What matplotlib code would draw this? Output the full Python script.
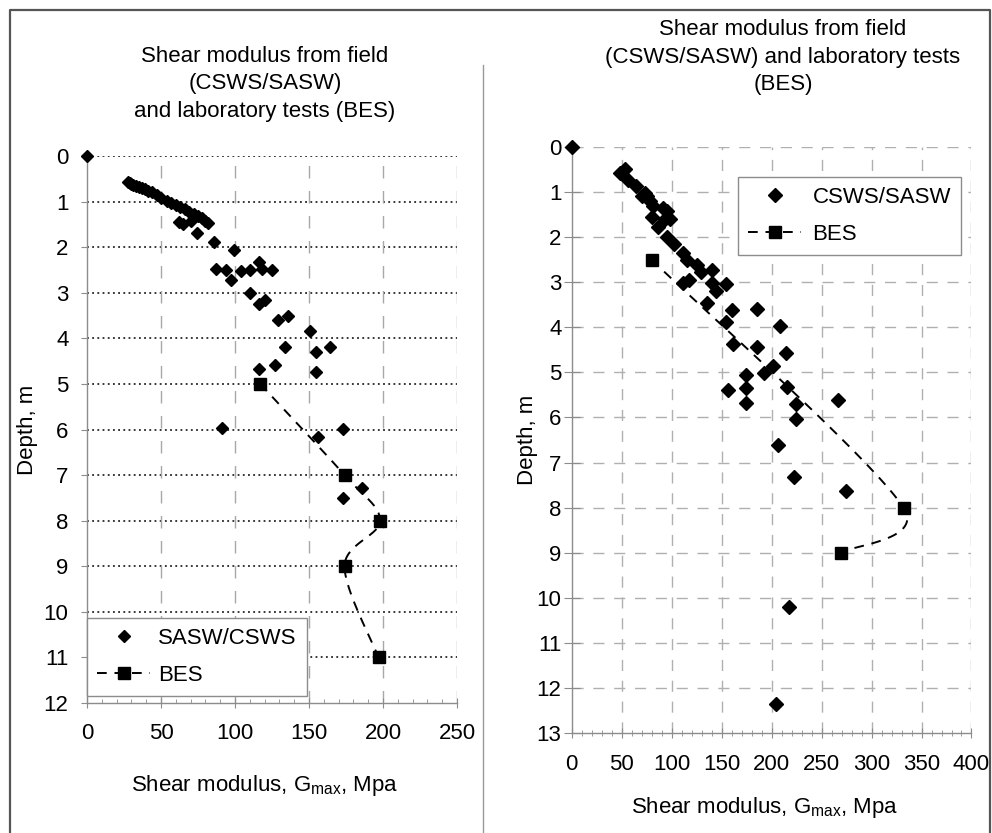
import numpy as np
import matplotlib
matplotlib.use("Agg")
import matplotlib.pyplot as plt
from matplotlib.lines import Line2D

plt.rcParams['font.family'] = ['Liberation Sans', 'DejaVu Sans']

# ---------------- data ----------------
left_field_G = [0, 28, 29, 30, 31, 33, 35, 37, 39, 41, 44, 47, 50, 54, 57, 60, 63, 66, 69, 72, 75, 78, 80, 82,
                62, 65, 70, 74, 86, 99, 87, 94, 97, 104, 110, 116, 118, 125, 110, 116, 120,
                129, 136, 151, 134, 164, 155, 127, 116, 155, 91, 156, 173, 186, 173]
left_field_d = [0, 0.57, 0.60, 0.62, 0.64, 0.66, 0.68, 0.70, 0.73, 0.76, 0.80, 0.85, 0.92, 0.99, 1.03, 1.07, 1.12, 1.17, 1.22, 1.27, 1.32, 1.37, 1.42, 1.46,
                1.45, 1.50, 1.43, 1.68, 1.88, 2.07, 2.47, 2.49, 2.71, 2.52, 2.49, 2.32, 2.47, 2.49, 3.00, 3.24, 3.15,
                3.60, 3.50, 3.84, 4.20, 4.20, 4.30, 4.58, 4.68, 4.74, 5.97, 6.16, 5.99, 7.28, 7.50]
left_bes_G = [117, 174, 198, 174, 197]
left_bes_d = [5, 7, 8, 9, 11]

right_field_G = [0, 48.5, 53.5, 56.8, 64.5, 73.5, 75.2, 70.2, 78.5, 81.8, 91.8, 95.2, 98.5, 93.5, 80.2, 86.8,
                 95.2, 102.5, 111.8, 115.8, 125.2, 129.5, 140.2, 140.2, 144.5, 154.2, 111.8, 117.8, 135.2,
                 160.2, 185.2, 208.5, 154.2, 161.8, 185.2, 214.2, 201.2, 192.5, 174.2, 156.8, 174.5, 174.5,
                 215.8, 224.2, 224.2, 206.8, 222.8, 274.5, 217.8, 204.2, 266]
right_field_d = [0, 0.585, 0.50, 0.73, 0.88, 1.02, 1.10, 1.10, 1.21, 1.32, 1.35, 1.43, 1.60, 1.60, 1.55, 1.79,
                 2.01, 2.16, 2.36, 2.52, 2.62, 2.77, 2.73, 3.01, 3.20, 3.05, 3.01, 2.96, 3.47,
                 3.63, 3.59, 3.97, 3.88, 4.38, 4.45, 4.58, 4.87, 5.02, 5.06, 5.39, 5.35, 5.67,
                 5.32, 5.71, 6.04, 6.61, 7.33, 7.62, 10.2, 12.35, 5.62]
right_bes_G = [80, 332, 269]
right_bes_d = [2.5, 8, 9]

left_xticks = [0, 50, 100, 150, 200, 250]
left_yticks = list(range(0, 13))
right_xticks = [0, 50, 100, 150, 200, 250, 300, 350, 400]
right_yticks = list(range(0, 14))

title_left = "Shear modulus from field\n(CSWS/SASW)\nand laboratory tests (BES)"
title_right = "Shear modulus from field\n(CSWS/SASW) and laboratory tests\n(BES)"
xlabel = "Shear modulus, G$_{\\mathregular{max}}$, Mpa"
ylabel = "Depth, m"

W, H = 992, 833
fig = plt.figure(figsize=(W / 100, H / 100), dpi=100)

def fx(px):
    return px / W

def fy(py):
    return 1 - py / H

FS = 16
GRAY = '#8c8c8c'


def smooth_curve(ax, xs, ys, n=40):
    """Excel-like smoothed line: cubic Bezier, arms of 1/6 of the neighbour chord,
    limited to half of the segment length (computed in display space)."""
    pts = ax.transData.transform(np.column_stack([xs, ys]))
    P = [pts[0]] + list(pts) + [pts[-1]]
    out = []
    for i in range(1, len(P) - 2):
        p0, p1, p2, p3 = P[i - 1], P[i], P[i + 1], P[i + 2]
        seg_len = np.hypot(*(p2 - p1))
        t1 = (p2 - p0) / 6.0
        t2 = (p3 - p1) / 6.0
        for t in (t1, t2):
            L = np.hypot(*t)
            if L > seg_len / 2 and L > 0:
                t *= (seg_len / 2) / L
        c1 = p1 + t1
        c2 = p2 - t2
        t = np.linspace(0, 1, n)[:, None]
        seg = ((1 - t) ** 3) * p1 + 3 * ((1 - t) ** 2) * t * c1 + 3 * (1 - t) * t ** 2 * c2 + t ** 3 * p2
        out.append(seg)
    out = np.vstack(out)
    return ax.transData.inverted().transform(out)


# ---------- left axes ----------
axL = fig.add_axes([fx(87), fy(703), fx(457 - 87), (703 - 156) / H])
axL.set_xlim(0, 250)
axL.set_ylim(12, 0)
for s in ['top', 'right']:
    axL.spines[s].set_visible(False)
for s in ['left', 'bottom']:
    axL.spines[s].set_color(GRAY)
    axL.spines[s].set_linewidth(1.0)
axL.set_xticks(left_xticks)
axL.set_yticks(left_yticks)
axL.set_xticks(np.arange(0, 251, 10), minor=True)
axL.tick_params(axis='x', which='major', direction='inout', length=7.5, color=GRAY, labelsize=FS, pad=11)
axL.tick_params(axis='x', which='minor', direction='in', length=3, color=GRAY)
axL.tick_params(axis='y', which='major', direction='out', length=4.3, color=GRAY, labelsize=FS, pad=9)
for y in left_yticks[:-1]:
    axL.axhline(y, color='black', lw=1.1, ls=(0, (1.2, 2.2)), zorder=1)
for x in left_xticks[1:]:
    axL.axvline(x, color='#a8a8a8', lw=1.0, ls=(0, (9, 9)), zorder=1)
axL.plot(left_field_G, left_field_d, ls='none', marker='D', ms=6.5, color='black', zorder=3,
         clip_on=False)
cL = smooth_curve(axL, left_bes_G, left_bes_d)
axL.plot(cL[:, 0], cL[:, 1], color='black', lw=1.4, ls=(0, (5, 4)), zorder=3)
axL.plot(left_bes_G, left_bes_d, ls='none', marker='s', ms=9, color='black', zorder=4)
h1 = Line2D([], [], ls='none', marker='D', ms=6.5, color='black')
h2 = Line2D([], [], color='black', lw=1.4, ls=(0, (5, 4)), marker='s', ms=9)
legL = axL.legend([h1, h2], ['SASW/CSWS', 'BES'], loc='lower left',
                  bbox_to_anchor=(0.0, 7 / (703 - 156)),
                  fontsize=FS, frameon=True, fancybox=False, edgecolor=GRAY,
                  framealpha=1, borderpad=0.45, labelspacing=0.72, handlelength=2.4,
                  handletextpad=0.35, borderaxespad=0)
legL.get_frame().set_linewidth(1.0)
legL.set_zorder(5)
axL.set_ylabel(ylabel, fontsize=FS, labelpad=4)
fig.text(fx(265), fy(785), xlabel, fontsize=FS, ha='center', va='center')
fig.text(fx(265), fy(84), title_left, fontsize=FS, ha='center', va='center', linespacing=1.4)

# ---------- right axes ----------
r_top, r_bot = 146.7, 733.3
axR = fig.add_axes([fx(571.5), fy(r_bot), fx(400), (r_bot - r_top) / H])
axR.set_xlim(0, 400)
axR.set_ylim(13, 0)
for s in ['top', 'right']:
    axR.spines[s].set_visible(False)
for s in ['left', 'bottom']:
    axR.spines[s].set_color(GRAY)
    axR.spines[s].set_linewidth(1.0)
axR.set_xticks(right_xticks)
axR.set_yticks(right_yticks)
axR.set_xticks(np.arange(0, 401, 10), minor=True)
axR.tick_params(axis='x', which='major', direction='inout', length=7.5, color=GRAY, labelsize=FS, pad=11)
axR.tick_params(axis='x', which='minor', direction='inout', length=4, color=GRAY)
axR.tick_params(axis='y', which='major', direction='inout', length=11.5, color=GRAY, labelsize=FS, pad=1.5)
for y in right_yticks[:-1]:
    axR.axhline(y, color='#b0b0b0', lw=1.0, ls=(0, (8, 7)), zorder=1)
for x in right_xticks[1:]:
    axR.axvline(x, color='#b0b0b0', lw=1.0, ls=(0, (8, 7)), zorder=1)
axR.plot(right_field_G, right_field_d, ls='none', marker='D', ms=7, color='black', zorder=3,
         clip_on=False)
cR = smooth_curve(axR, right_bes_G, right_bes_d)
axR.plot(cR[:, 0], cR[:, 1], color='black', lw=1.4, ls=(0, (5, 4)), zorder=3)
axR.plot(right_bes_G, right_bes_d, ls='none', marker='s', ms=9, color='black', zorder=4)
h3 = Line2D([], [], ls='none', marker='D', ms=7, color='black')
legR = axR.legend([h3, h2], ['CSWS/SASW', 'BES'], loc='upper left',
                  bbox_to_anchor=((738 - 571.5) / 400, 1 - (176.7 - r_top) / (r_bot - r_top)),
                  fontsize=FS, frameon=True, fancybox=False, edgecolor=GRAY,
                  framealpha=1, borderpad=0.45, labelspacing=0.72, handlelength=2.4,
                  handletextpad=0.5, borderaxespad=0)
legR.get_frame().set_linewidth(1.0)
legR.set_zorder(5)
axR.set_ylabel(ylabel, fontsize=FS, labelpad=-1)
fig.text(fx(765), fy(808), xlabel, fontsize=FS, ha='center', va='center')
fig.text(fx(783), fy(57), title_right, fontsize=FS, ha='center', va='center', linespacing=1.4)

# ---------- frame and divider ----------
fig.add_artist(Line2D([fx(10), fx(10), fx(990), fx(990)], [0, fy(10), fy(10), 0],
                      color='#555555', lw=1.6))
fig.add_artist(Line2D([fx(483), fx(483)], [fy(65), 0], color='#999999', lw=1.0))

fig.savefig('out.png', dpi=100)
